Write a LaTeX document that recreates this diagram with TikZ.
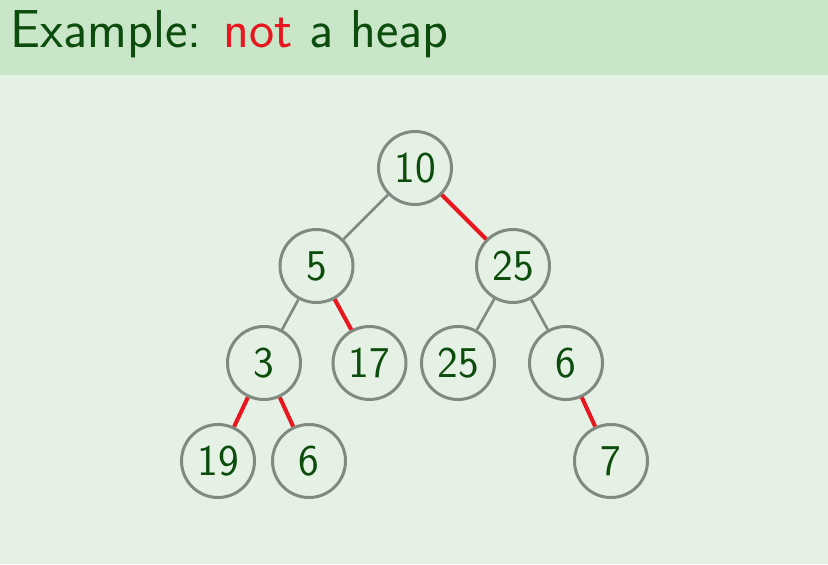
\documentclass[tikz,border=0pt]{standalone}
\usepackage{fontspec}
\usepackage{tikz}
\usetikzlibrary{positioning}
\newfontfamily\thinsans{lmsans17-regular.otf}
\definecolor{bodybg}{RGB}{229,241,229}
\definecolor{headbg}{RGB}{201,230,201}
\definecolor{darkgreen}{RGB}{12,76,12}
\definecolor{ringgray}{RGB}{128,138,128}
\definecolor{badred}{RGB}{232,22,30}
\begin{document}
\begin{tikzpicture}[
  key/.style={circle,draw=ringgray,line width=1.7pt,minimum size=1.46cm,inner sep=0pt,
    text=darkgreen,font=\thinsans\fontsize{25}{30}\selectfont},
  okedge/.style={draw=ringgray,line width=1.5pt},
  badedge/.style={draw=badred,line width=2.3pt}]
% background and title band
\fill[bodybg] (0,0) rectangle (16.56,11.28);
\fill[headbg] (0,9.78) rectangle (16.56,11.28);
\node[anchor=base west,inner sep=0pt,text=darkgreen,font=\thinsans\fontsize{30.4}{36}\selectfont] (title) at (0.2,10.32)
  {Example: \textcolor{badred}{not} a heap};
% tree
\node[key] (n10) at (8.30,7.92) {10};
\node[key] (n5) at (6.33,5.96) {5};
\node[key] (n25a) at (10.26,5.96) {25};
\node[key] (n3) at (5.28,4.02) {3};
\node[key] (n17) at (7.39,4.02) {17};
\node[key] (n25b) at (9.16,4.02) {25};
\node[key] (n6a) at (11.32,4.02) {6};
\node[key] (n19) at (4.36,2.06) {19};
\node[key] (n6b) at (6.18,2.06) {6};
\node[key] (n7) at (12.22,2.06) {7};
\draw[okedge] (n10)--(n5);
\draw[badedge] (n10)--(n25a);
\draw[okedge] (n5)--(n3);
\draw[badedge] (n5)--(n17);
\draw[okedge] (n25a)--(n25b);
\draw[okedge] (n25a)--(n6a);
\draw[badedge] (n3)--(n19);
\draw[badedge] (n3)--(n6b);
\draw[badedge] (n6a)--(n7);
\end{tikzpicture}
\end{document}
